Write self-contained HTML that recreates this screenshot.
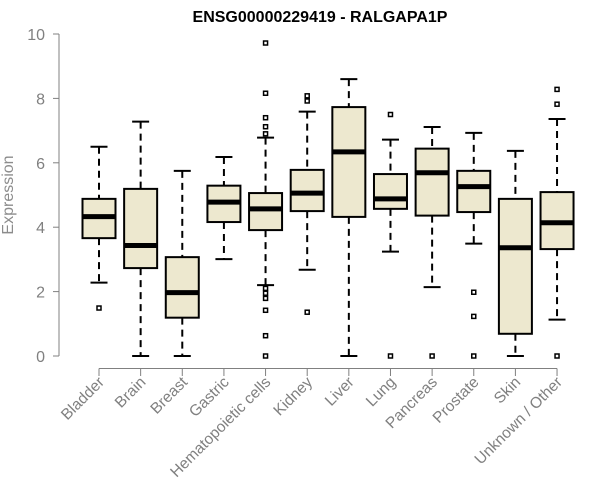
<!DOCTYPE html>
<html><head><meta charset="utf-8"><style>
html,body{margin:0;padding:0;background:#fff;}
svg{display:block;font-family:"Liberation Sans",Arial,sans-serif;}
</style></head><body>
<svg id="chart" width="600" height="500">
<text x="320" y="22" text-anchor="middle" font-weight="bold" font-size="16" fill="#000">ENSG00000229419 - RALGAPA1P</text>
<text transform="translate(13,195) rotate(-90)" text-anchor="middle" font-size="16" fill="#8c8c8c">Expression</text>
<g id="axes"></g>
<g id="boxes"></g>
</svg>
<script>
const categories = ["Bladder","Brain","Breast","Gastric","Hematopoietic cells","Kidney","Liver","Lung","Pancreas","Prostate","Skin","Unknown / Other"];
const whiskLow = [2.28,0,0,3.01,2.2,2.68,0,3.24,2.14,3.49,0,1.13];
const q1 = [3.66,2.73,1.19,4.16,3.91,4.5,4.32,4.57,4.36,4.47,0.69,3.32];
const medians = [4.33,3.43,1.97,4.78,4.57,5.06,6.34,4.88,5.69,5.26,3.36,4.14];
const q3 = [4.88,5.19,3.07,5.29,5.06,5.78,7.73,5.65,6.44,5.75,4.88,5.09];
const whiskHigh = [6.5,7.28,5.75,6.18,6.78,7.59,8.6,6.72,7.11,6.93,6.37,7.36];
const outliers = [[1.49],[],[],[],[9.72,8.16,7.4,7.12,6.9,2.1,1.95,1.79,1.42,0.63,0],[8.08,7.92,1.36],[],[7.5,0],[0],[1.98,1.23,0],[],[8.28,7.82,0]];
const yTicks = [0,2,4,6,8,10];

const NS="http://www.w3.org/2000/svg";
const yScale = v => 356 - v*32.2;
const xScale = i => 99 + i*41.64;
function mk(parent, tag, attrs){const e=document.createElementNS(NS,tag);for(const k in attrs)e.setAttribute(k,attrs[k]);parent.appendChild(e);return e;}
const axes=document.getElementById('axes'), boxes=document.getElementById('boxes');
const gray="#808080";
let yl=mk(axes,'line',{x1:59,x2:59,y1:yScale(10),y2:yScale(0),stroke:gray,'stroke-width':1});


yTicks.forEach(t=>{
  const tk=mk(axes,'line',{x1:53,x2:59,y1:yScale(t),y2:yScale(t),stroke:gray});
  
  
  const tx=mk(axes,'text',{x:45,y:yScale(t)+6,'text-anchor':'end','font-size':16,fill:gray});
  tx.textContent=t;
  
  
});
let xl=mk(axes,'line',{x1:xScale(0),x2:xScale(categories.length-1),y1:368.5,y2:368.5,stroke:gray});


categories.forEach((c,i)=>{
  const x=xScale(i);
  const tk=mk(axes,'line',{x1:x,x2:x,y1:368.5,y2:376,stroke:gray});
  
  
  const tx=mk(axes,'text',{x:x+6,y:383,'text-anchor':'end','font-size':15.5,fill:gray,transform:`rotate(-45 ${x+6} 383)`});
  tx.textContent=c;
  
  

  const g=mk(boxes,'g',{});
  
  
  const hw=16.5, cw=8.5;
  mk(g,'line',{x1:x,x2:x,y1:yScale(whiskHigh[i]),y2:yScale(q3[i]),stroke:'#000','stroke-width':2,'stroke-dasharray':'7,5'});
  mk(g,'line',{x1:x,x2:x,y1:yScale(q1[i]),y2:yScale(whiskLow[i]),stroke:'#000','stroke-width':2,'stroke-dasharray':'7,5'});
  mk(g,'line',{x1:x-cw,x2:x+cw,y1:yScale(whiskHigh[i]),y2:yScale(whiskHigh[i]),stroke:'#000','stroke-width':2});
  mk(g,'line',{x1:x-cw,x2:x+cw,y1:yScale(whiskLow[i]),y2:yScale(whiskLow[i]),stroke:'#000','stroke-width':2});
  mk(g,'rect',{x:x-hw,y:yScale(q3[i]),width:hw*2,height:yScale(q1[i])-yScale(q3[i]),fill:'#ede8cf',stroke:'#000','stroke-width':2});
  mk(g,'line',{x1:x-hw,x2:x+hw,y1:yScale(medians[i]),y2:yScale(medians[i]),stroke:'#000','stroke-width':5});
  outliers[i].forEach(v=>{
    const p=mk(g,'rect',{x:x-2,y:yScale(v)-2,width:4,height:4,fill:'#fff',stroke:'#000','stroke-width':1.5});
    
    
  });
});
</script>
</body></html>
